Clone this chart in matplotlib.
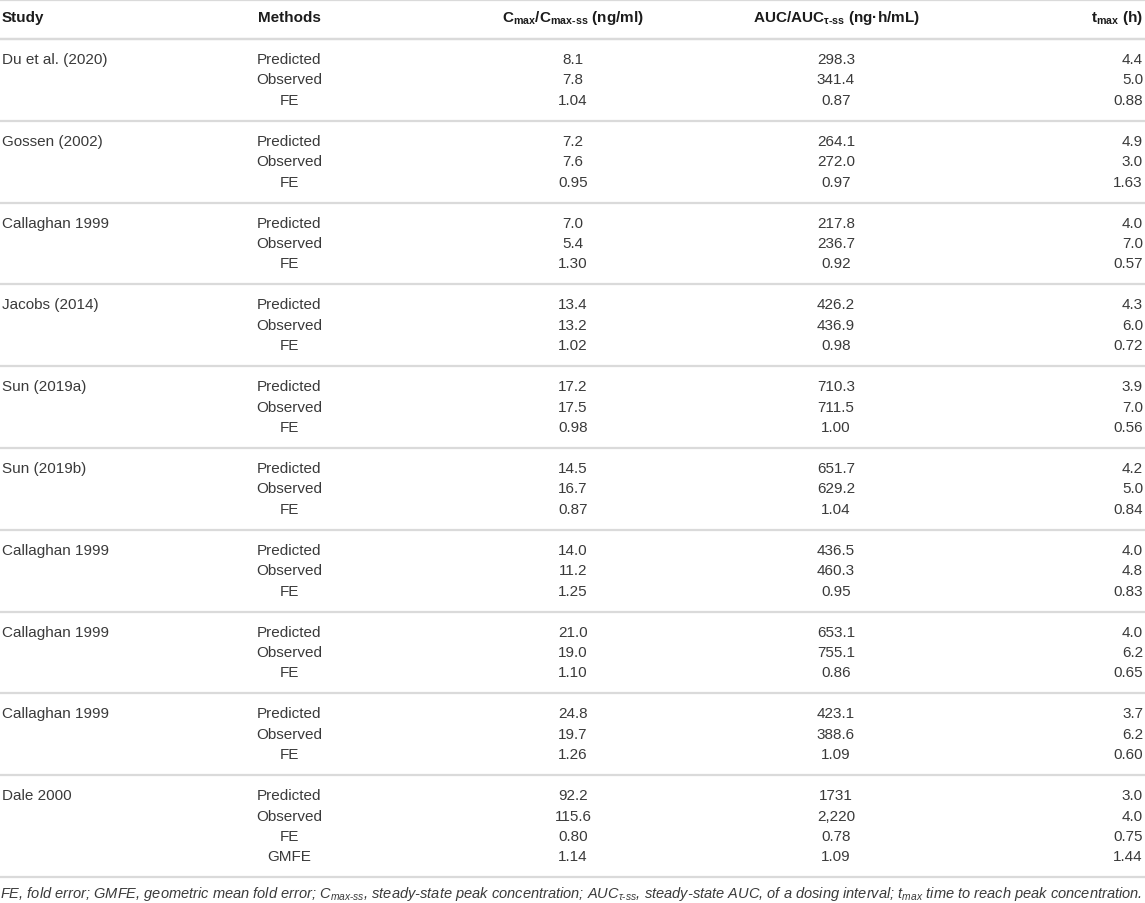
import matplotlib
matplotlib.use("Agg")
import matplotlib.pyplot as plt

plt.rcParams['font.family'] = ['Liberation Sans', 'DejaVu Sans']
plt.rcParams['mathtext.fontset'] = 'custom'
plt.rcParams['mathtext.rm'] = 'Liberation Sans'
plt.rcParams['mathtext.it'] = 'Liberation Sans:italic'
plt.rcParams['mathtext.bf'] = 'Liberation Sans:bold'

# table data
studies = ["Du et al. (2020)", "Gossen (2002)", "Callaghan 1999", "Jacobs (2014)",
           "Sun (2019a)", "Sun (2019b)", "Callaghan 1999", "Callaghan 1999",
           "Callaghan 1999", "Dale 2000"]
methods = ["Predicted", "Observed", "FE"]

cmax_pred = ["8.1", "7.2", "7.0", "13.4", "17.2", "14.5", "14.0", "21.0", "24.8", "92.2"]
cmax_obs = ["7.8", "7.6", "5.4", "13.2", "17.5", "16.7", "11.2", "19.0", "19.7", "115.6"]
cmax_fe = ["1.04", "0.95", "1.30", "1.02", "0.98", "0.87", "1.25", "1.10", "1.26", "0.80"]

auc_pred = ["298.3", "264.1", "217.8", "426.2", "710.3", "651.7", "436.5", "653.1", "423.1", "1731"]
auc_obs = ["341.4", "272.0", "236.7", "436.9", "711.5", "629.2", "460.3", "755.1", "388.6", "2,220"]
auc_fe = ["0.87", "0.97", "0.92", "0.98", "1.00", "1.04", "0.95", "0.86", "1.09", "0.78"]

tmax_pred = ["4.4", "4.9", "4.0", "4.3", "3.9", "4.2", "4.0", "4.0", "3.7", "3.0"]
tmax_obs = ["5.0", "3.0", "7.0", "6.0", "7.0", "5.0", "4.8", "6.2", "6.2", "4.0"]
tmax_fe = ["0.88", "1.63", "0.57", "0.72", "0.56", "0.84", "0.83", "0.65", "0.60", "0.75"]

gmfe_label = "GMFE"
gmfe = ["1.14", "1.09", "1.44"]

headers = ["Study", "Methods",
           r"C$_{\mathbf{max}}$/C$_{\mathbf{max‐ss}}$ (ng/ml)",
           r"AUC/AUC$_{\mathbf{τ‐ss}}$ (ng·h/mL)",
           r"t$_{\mathbf{max}}$ (h)"]

footnote = (r"FE, fold error; GMFE, geometric mean fold error; C$_{max‐ss}$, steady-state peak concentration; "
            r"AUC$_{τ‐ss}$, steady-state AUC, of a dosing interval; t$_{max}$ time to reach peak concentration.")

# layout (pixels)
W, H = 1145, 904
col_x = [2, 289, 573, 836, 1143]
col_ha = ['left', 'center', 'center', 'center', 'right']
header_y = 18
first_line = 40
row_h = 20.45
group_h = 4 * row_h
body_color = '#3a3a3a'
head_color = '#1c1c1c'
line_color = '#dadada'
fs = 11

fig = plt.figure(figsize=(W / 100, H / 100), dpi=100)
ax = fig.add_axes([0, 0, 1, 1])
ax.set_xlim(0, W)
ax.set_ylim(H, 0)
ax.axis('off')

# header
for x, ha, h in zip(col_x, col_ha, headers):
    ax.text(x, header_y, h, ha=ha, va='center', fontsize=fs, fontweight='bold', color=head_color)

lines = [1, first_line]
for g, study in enumerate(studies):
    top = first_line + g * group_h
    lines.append(top)
    vals = [(cmax_pred[g], auc_pred[g], tmax_pred[g]),
            (cmax_obs[g], auc_obs[g], tmax_obs[g]),
            (cmax_fe[g], auc_fe[g], tmax_fe[g])]
    labels = list(methods)
    if g == len(studies) - 1:
        vals.append(tuple(gmfe))
        labels.append(gmfe_label)
    for k, (lab, row) in enumerate(zip(labels, vals)):
        y = top + row_h * (k + 1) - 0.5
        if k == 0:
            ax.text(col_x[0], y, study, ha='left', va='center', fontsize=fs, color=body_color)
        ax.text(col_x[1], y, lab, ha='center', va='center', fontsize=fs, color=body_color)
        for x, ha, v in zip(col_x[2:], col_ha[2:], row):
            ax.text(x, y, v, ha=ha, va='center', fontsize=fs, color=body_color)
    if g == len(studies) - 1:
        lines.append(top + row_h * 5 - 0.5)

ax.hlines(lines, 0, W, colors=line_color, linewidth=1.6)

ax.text(0, 894, footnote, ha='left', va='center', fontsize=10.5, style='italic', color=body_color)

fig.savefig("out.png", dpi=100)
